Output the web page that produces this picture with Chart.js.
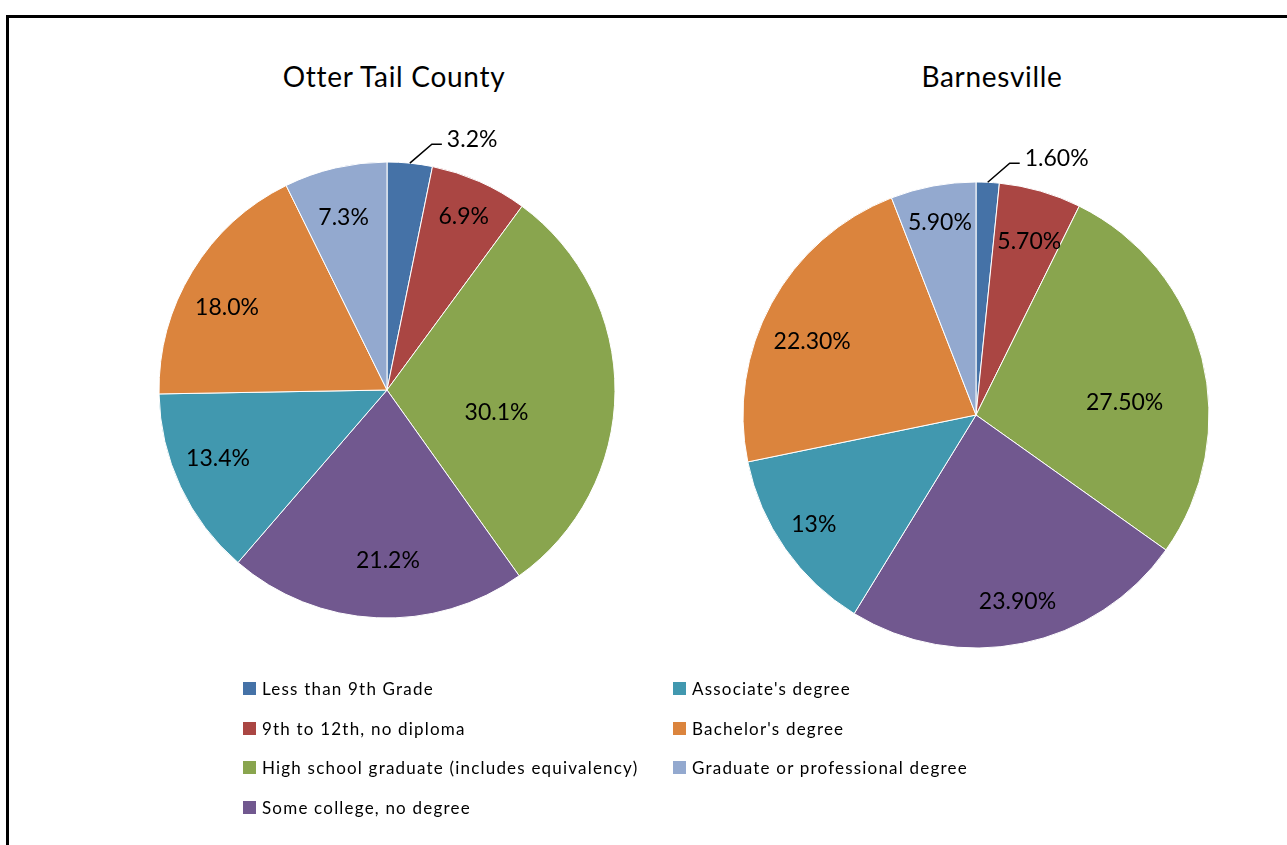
<!DOCTYPE html>
<html>
<head>
<meta charset="utf-8">
<title>Educational Attainment</title>
<script src="https://cdn.jsdelivr.net/npm/chart.js@4.4.0/dist/chart.umd.min.js"></script>
<style>
  html, body { margin: 0; padding: 0; background: #fff; overflow: hidden; }
  body { font-family: Lato, "Liberation Sans", sans-serif; color: #000; }
  #frame {
    position: absolute; left: 6px; top: 15px; width: 1400px; height: 900px;
    border-left: 3px solid #000; border-top: 3px solid #000;
  }
  .title {
    position: absolute; top: 60px; width: 400px;
    text-align: center; font-size: 28px; line-height: 32px; letter-spacing: 0.7px;
  }
  canvas { position: absolute; }
  #legend {
    position: absolute; left: 243px; top: 669px;
    display: grid; grid-auto-flow: column;
    grid-template-rows: repeat(4, 39.5px);
    grid-template-columns: 430px 340px;
  }
  .item { display: flex; align-items: center; font-size: 17px; letter-spacing: 1.2px; white-space: nowrap; }
  .swatch { width: 13px; height: 13px; margin-right: 6px; flex: none; }
</style>
</head>
<body>
<div id="frame"></div>

<div class="title" style="left: 194px;">Otter Tail County</div>
<div class="title" style="left: 792px;">Barnesville</div>

<canvas id="otterTail" width="560" height="560" style="left: 107px; top: 110px;"></canvas>
<canvas id="barnesville" width="560" height="560" style="left: 696px; top: 135px;"></canvas>

<div id="legend"></div>

<script>
const categories = [
  'Less than 9th Grade',
  '9th to 12th, no diploma',
  'High school graduate (includes equivalency)',
  'Some college, no degree',
  "Associate's degree",
  "Bachelor's degree",
  'Graduate or professional degree'
];

// percentages kept as written so the labels show them the same way
const otterTailValues = ['3.2', '6.9', '30.1', '21.2', '13.4', '18.0', '7.3'];
const barnesvilleValues = ['1.60', '5.70', '27.50', '23.90', '13', '22.30', '5.90'];

const sliceColors = ['#4572A7', '#AA4643', '#89A54E', '#71588F', '#4198AF', '#DB843D', '#93A9CF'];

// where each label sits: fraction of the radius (null = outside with a leader line)
// and a small turn in degrees away from the slice middle
const otterLabelRadius = [null, 0.83, 0.49, 0.75, 0.80, 0.79, 0.78];
const otterLabelTurn = [0, 0, 11, -3, 3, -4, -1];
const barnesLabelRadius = [null, 0.78, 0.64, 0.82, 0.84, 0.77, 0.84];
const barnesLabelTurn = [0, 1, 9.5, -1, 1, -4.5, 0];

const sliceLabels = {
  id: 'sliceLabels',
  afterDatasetsDraw(chart, args, opts) {
    const ctx = chart.ctx;
    const meta = chart.getDatasetMeta(0);
    ctx.save();
    ctx.font = '23px Lato';
    ctx.fillStyle = '#000';
    meta.data.forEach((arc, i) => {
      const { x, y, startAngle, endAngle, outerRadius } =
        arc.getProps(['x', 'y', 'startAngle', 'endAngle', 'outerRadius'], true);
      const text = opts.texts[i] + '%';
      let mid = (startAngle + endAngle) / 2;

      if (opts.radius[i] === null) {
        // thin slice: label outside, joined by an elbow line
        const ex = x + Math.cos(mid) * outerRadius;
        const ey = y + Math.sin(mid) * outerRadius;
        const kx = ex + 22, ky = ey - 19;
        ctx.beginPath();
        ctx.moveTo(ex, ey);
        ctx.lineTo(kx, ky);
        ctx.lineTo(kx + 10, ky);
        ctx.lineWidth = 1.5;
        ctx.strokeStyle = '#000';
        ctx.stroke();
        ctx.textAlign = 'left';
        ctx.textBaseline = 'middle';
        ctx.fillText(text, kx + 15, ky - 5);
        return;
      }

      mid += opts.turn[i] * Math.PI / 180;
      const r = outerRadius * opts.radius[i];
      ctx.textAlign = 'center';
      ctx.textBaseline = 'middle';
      ctx.fillText(text, x + Math.cos(mid) * r, y + Math.sin(mid) * r);
    });
    ctx.restore();
  }
};

function makePie(canvasId, values, radius, labelRadius, labelTurn) {
  return new Chart(document.getElementById(canvasId), {
    type: 'pie',
    data: {
      labels: categories,
      datasets: [{
        data: values.map(Number),
        backgroundColor: sliceColors,
        borderColor: '#ffffff',
        borderWidth: 1,
        hoverOffset: 0,
        radius: radius
      }]
    },
    options: {
      responsive: false,
      animation: false,
      plugins: {
        legend: { display: false },
        tooltip: { enabled: false },
        sliceLabels: { texts: values, radius: labelRadius, turn: labelTurn }
      }
    },
    plugins: [sliceLabels]
  });
}

const otterChart = makePie('otterTail', otterTailValues, 228, otterLabelRadius, otterLabelTurn);
makePie('barnesville', barnesvilleValues, 233, barnesLabelRadius, barnesLabelTurn);

// shared legend, built from the chart's own labels and colours
const legend = document.getElementById('legend');
otterChart.data.labels.forEach((label, i) => {
  const item = document.createElement('div');
  item.className = 'item';
  const swatch = document.createElement('span');
  swatch.className = 'swatch';
  swatch.style.background = otterChart.data.datasets[0].backgroundColor[i];
  item.appendChild(swatch);
  item.appendChild(document.createTextNode(label));
  legend.appendChild(item);
});
</script>
</body>
</html>
